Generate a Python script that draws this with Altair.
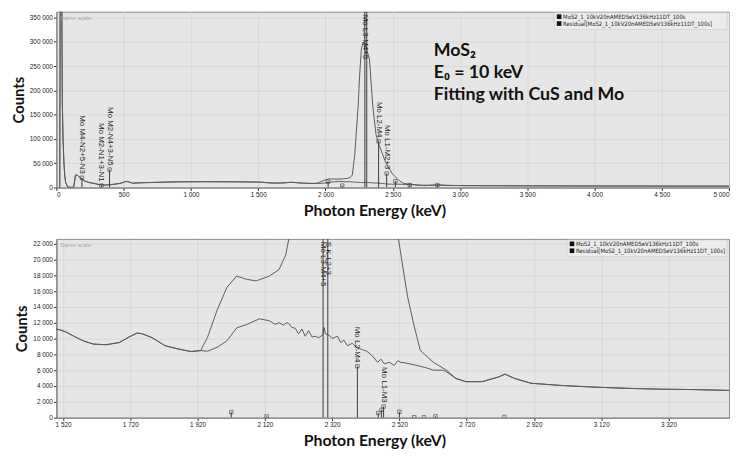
import altair as alt
import pandas as pd

# ---------------- data ----------------
spec_E = [25, 30, 38, 44, 50, 56, 62, 68, 80, 92, 110, 129, 135, 141, 153, 165, 177, 195, 214,
          250, 287, 320, 360, 408, 450, 481, 517, 540, 566, 649, 894, 1100, 1380,
          1508, 1527, 1551, 1580, 1610, 1648, 1687, 1716, 1740, 1755, 1784, 1823, 1861, 1900,
          1929, 1949, 1978, 2007, 2036, 2065, 2094, 2133, 2162, 2182, 2191, 2200, 2218, 2243,
          2254, 2267, 2279, 2300, 2327, 2352, 2376, 2400, 2449, 2498, 2517, 2544, 2563, 2582,
          2621, 2660, 2688, 2718, 2766, 2815, 2834, 2863, 2911, 3008, 3105, 3202, 3299, 3396,
          3493, 4000, 4500, 5000]
spec_C = [0, 600000, 500000, 174000, 95000, 50800, 25000, 11700, 3000, 1000, 300, 1000, 12000,
          25000, 26000, 23000, 20000, 16000, 13000,
          10000, 8000, 6000, 5000, 6000, 7500, 9000, 12500, 11500, 9000, 10000, 11700, 12000, 11700,
          11140, 10860, 10320, 9710, 9300, 9220, 9500, 10200, 10700, 10610, 10120, 9100, 8690, 8360,
          8480, 10120, 13600, 16470, 17900, 17500, 17290, 17900, 18720, 20570, 22600, 26000, 68000,
          168000, 230000, 285000, 299000, 290000, 265000, 168000, 109000, 86500, 50800, 28000,
          22600, 15350, 11700, 8500,
          7000, 6000, 4950, 4550, 4550, 5150, 5500, 4950, 4350, 4050, 3850, 3700, 3600, 3550,
          3450, 3200, 3000, 2800]

res_E = [25, 30, 38, 44, 50, 56, 62, 68, 80, 92, 110, 129, 135, 141, 153, 165, 177, 195, 214,
         250, 287, 320, 360, 408, 450, 481, 517, 540, 566, 649, 894, 1100, 1380,
         1508, 1527, 1551, 1580, 1610, 1648, 1687, 1716, 1740, 1755, 1784, 1823, 1861, 1900,
         1929, 1949, 1978, 2007, 2036, 2065, 2104, 2133, 2150, 2162, 2175, 2185, 2191, 2200,
         2210, 2220, 2230, 2240, 2250, 2260, 2269, 2280, 2293, 2296, 2300, 2312, 2320, 2336,
         2345, 2355, 2365, 2380, 2394, 2410, 2423, 2440, 2455, 2465, 2475, 2490, 2505, 2515,
         2524, 2540, 2572, 2600, 2621, 2650, 2660, 2688, 2718, 2766, 2815, 2834, 2863, 2911,
         3008, 3105, 3202, 3299, 3396, 3493, 4000, 4500, 5000]
res_C = [0, 600000, 500000, 174000, 95000, 50800, 25000, 11700, 3000, 1000, 300, 1000, 12000,
         25000, 26000, 23000, 20000, 16000, 13000,
         10000, 8000, 6000, 5000, 6000, 7500, 9000, 12500, 11500, 9000, 10000, 11700, 12000, 11700,
         11140, 10860, 10320, 9710, 9300, 9220, 9500, 10200, 10700, 10610, 10120, 9100, 8690, 8360,
         8480, 8400, 8890, 9710, 11350, 11760, 12500, 12250, 11800, 12000, 11700, 12000, 11900, 11400,
         11300, 10600, 11200, 10300, 11000, 10200, 10300, 10100, 10500, 11400, 10600, 10400, 10000, 10300,
         9500, 9800, 9100, 9400, 8800, 8600, 8400, 7800, 7000, 7400, 6800, 7000, 6600, 7200,
         7000, 6900, 6600, 6300, 6000, 6000, 5800, 4950, 4550, 4550, 5150, 5500, 4950, 4350,
         4050, 3850, 3700, 3600, 3550, 3450, 3200, 3000, 2800]

top_mk_E = [190, 335, 395, 2293, 2307, 2395, 2455, 2020, 2125, 2520, 2627, 2832]
top_mk_H = [20000, 4000, 37000, 400000, 400000, 95000, 29000, 12000, 4000, 13000, 5000, 5000]
top_mk_L = ["Mo M4-N2+5-N3", "Mo M2-N1+3-N1", "Mo M2-N4+3-N5", "Mo L3-M4+5", "", "Mo L2-M4",
            "Mo L1-M2+3", "", "", "", "", ""]

bot_mk_E = [2293, 2307, 2395, 2473, 2020, 2125, 2457, 2467, 2520, 2564, 2593, 2627, 2832]
bot_mk_H = [30000, 30000, 6500, 1400, 700, 150, 600, 1000, 740, 50, 50, 160, 100]
bot_mk_L = ["Mo L3-M4+5", "S K-L2+3", "Mo L2-M4", "Mo L1-M3", "", "", "", "", "", "", "", "", ""]

top_x_ticks = [0, 500, 1000, 1500, 2000, 2500, 3000, 3500, 4000, 4500, 5000]
top_y_ticks = [0, 50000, 100000, 150000, 200000, 250000, 300000, 350000]
bot_x_ticks = [1520, 1720, 1920, 2120, 2320, 2520, 2720, 2920, 3120, 3320]
bot_y_ticks = [0, 2000, 4000, 6000, 8000, 10000, 12000, 14000, 16000, 18000, 20000, 22000]

legend_labels = ["MoS2_1_10kV20nAMED5eV136kHz11DT_100s",
                 "Residual[MoS2_1_10kV20nAMED5eV136kHz11DT_100s]"]
annot_lines = ["MoS\u2082", "E\u2080 = 10 keV", "Fitting with CuS and Mo"]

# ---------------- chart ----------------
LINE_COLOR = "#5a5a5a"
TITLE_FONT = "Lato"
SMALL_FONT = "Liberation Sans"
LABEL_EXPR = "replace(format(datum.value, ',d'), ',', ' ')"
W = 681

spec_df = pd.DataFrame({
    "E": spec_E + res_E,
    "C": spec_C + res_C,
    "s": ["Spectrum"] * len(spec_E) + ["Residual"] * len(res_E),
})
legend_df = pd.DataFrame({"t": legend_labels, "i": list(range(len(legend_labels)))})
annot_df = pd.DataFrame({"t": annot_lines, "i": list(range(len(annot_lines)))})
one_df = pd.DataFrame({"a": [0]})


def panel(xdom, ydom, xticks, yticks, mk_E, mk_H, mk_L, w, h, flush, leg_x, annot):
    xs = alt.Scale(domain=xdom, nice=False, zero=False)
    ys = alt.Scale(domain=ydom, nice=False, zero=False)
    xax = alt.Axis(values=xticks, title="Photon Energy (keV)", labelExpr=LABEL_EXPR,
                   labelFlush=flush, labelOverlap=False, titleX=322, titlePadding=5)
    yax = alt.Axis(values=yticks, title="Counts", labelExpr=LABEL_EXPR, labelOverlap=False,
                   titlePadding=3)
    X = lambda f: alt.X(f, scale=xs, axis=xax)
    Y = lambda f: alt.Y(f, scale=ys, axis=yax)
    lines = alt.Chart(spec_df).mark_line(clip=True, color=LINE_COLOR, strokeWidth=1).encode(
        x=X("E:Q"), y=Y("C:Q"), detail="s:N")
    mk_df = pd.DataFrame({"E": mk_E, "H": mk_H, "L": mk_L})
    rules = alt.Chart(mk_df).mark_rule(clip=True, color="#3a3a3a", strokeWidth=1).encode(
        x=X("E:Q"), y=Y("H:Q"), y2=alt.datum(0))
    squares = alt.Chart(mk_df).mark_point(shape="square", size=12, filled=False, clip=True,
                                          color="#3a3a3a", strokeWidth=0.9).encode(
        x=X("E:Q"), y=Y("H:Q"))
    lab_low = alt.Chart(mk_df).transform_filter(
        f"datum.L != '' && datum.H <= {ydom[1]}").mark_text(
        angle=90, align="right", baseline="middle", dx=-4, fontSize=8, font=SMALL_FONT,
        color="#222").encode(x=X("E:Q"), y=Y("H:Q"), text="L:N")
    lab_top = alt.Chart(mk_df).transform_filter(
        f"datum.L != '' && datum.H > {ydom[1]}").mark_text(
        angle=90, align="left", baseline="middle", dx=3, fontSize=8, font=SMALL_FONT,
        color="#222").encode(x=X("E:Q"), y=alt.value(0), text="L:N")
    leg_box = alt.Chart(one_df).mark_rect(fill="#ececec", stroke="#c8c8c8", strokeWidth=0.6).encode(
        x=alt.value(leg_x - 5), x2=alt.value(w - 2), y=alt.value(1), y2=alt.value(18))
    leg_sq = alt.Chart(legend_df).transform_calculate(yy="5 + datum.i * 7").mark_square(
        size=22, color="#111", opacity=1).encode(
        x=alt.value(leg_x), y=alt.Y("yy:Q", scale=None, axis=None))
    leg_txt = alt.Chart(legend_df).transform_calculate(yy="5 + datum.i * 7").mark_text(
        align="left", baseline="middle", fontSize=6,
        font="Liberation Sans Narrow, DejaVu Sans Condensed, Liberation Sans",
        color="#222").encode(
        x=alt.value(leg_x + 4), y=alt.Y("yy:Q", scale=None, axis=None), text="t:N")
    same = alt.Chart(one_df).mark_text(text="Same scale", align="left", baseline="middle",
                                       fontSize=6, font=SMALL_FONT, color="#a8a8a8").encode(
        x=alt.value(4), y=alt.value(6))
    layers = [lines, rules, squares, lab_low, lab_top, leg_box, leg_sq, leg_txt, same]
    if annot:
        ann = alt.Chart(annot_df).transform_calculate(yy="45 + datum.i * 22").mark_text(
            align="left", baseline="alphabetic", fontSize=18, font=TITLE_FONT, fontWeight="bold",
            color="#111").encode(
            x=alt.value(382), y=alt.Y("yy:Q", scale=None, axis=None), text="t:N")
        layers.append(ann)
    return alt.layer(*layers).properties(width=w, height=h)


top = panel([0, 5000], [0, 362000], top_x_ticks, top_y_ticks, top_mk_E, top_mk_H, top_mk_L,
            W, 178, True, 509, True)
bot = panel([1500, 3500], [0, 22600], bot_x_ticks, bot_y_ticks, bot_mk_E, bot_mk_H, bot_mk_L,
            W, 181, False, 522, False)

chart = alt.vconcat(top, bot, background="white",
                    padding={"left": 3, "top": 0, "right": 0, "bottom": 0}).configure_view(
    fill="#e6e6e6", stroke="#8a8a8a", strokeWidth=1
).configure_axis(
    labelFontSize=6.5, labelColor="#222", labelFont=SMALL_FONT, labelPadding=1,
    tickSize=3, tickColor="#333", domainColor="#777",
    gridColor="#d4d4d4", gridWidth=0.7,
    titleFont=TITLE_FONT, titleFontWeight="bold", titleColor="#111",
).configure_axisX(titleFontSize=16).configure_axisY(titleFontSize=15).configure_concat(
    spacing=19
)

chart.save("out.html", embed_options={"renderer": "svg", "actions": False})
